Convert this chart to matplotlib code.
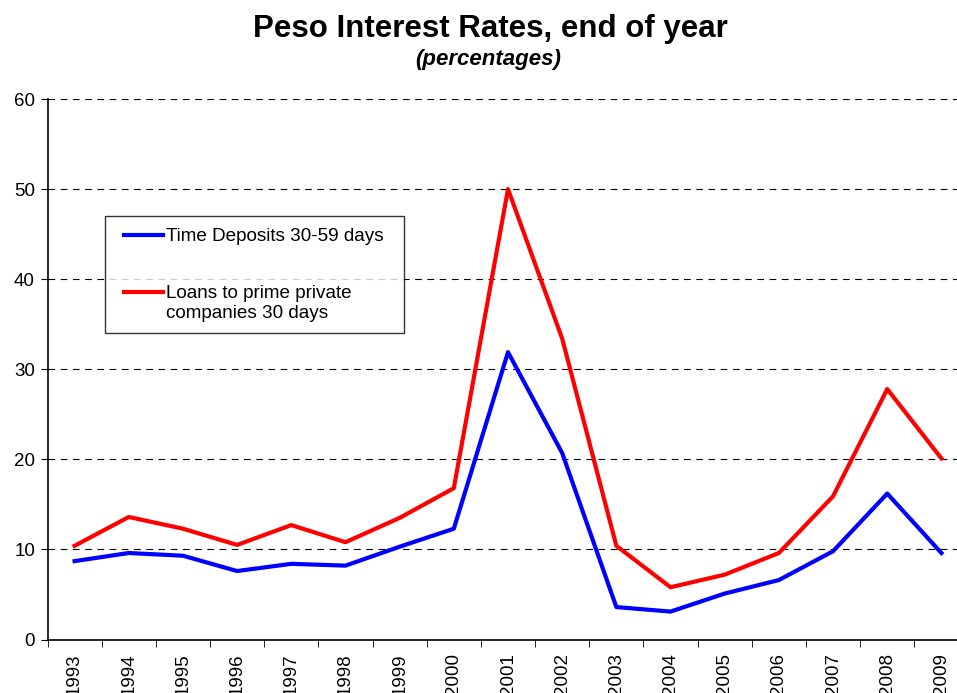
import numpy as np
import matplotlib
matplotlib.use("Agg")
from matplotlib import pyplot as plt
from matplotlib.legend_handler import HandlerLine2D

plt.rcParams["font.family"] = ["Liberation Sans", "DejaVu Sans"]

years = ["1993", "1994", "1995", "1996", "1997", "1998", "1999", "2000", "2001",
         "2002", "2003", "2004", "2005", "2006", "2007", "2008", "2009"]
deposits = [8.7, 9.6, 9.3, 7.6, 8.4, 8.2, 10.3, 12.3, 31.9,
            20.7, 3.6, 3.1, 5.1, 6.6, 9.8, 16.2, 9.6]
loans = [10.4, 13.6, 12.3, 10.5, 12.7, 10.8, 13.5, 16.8, 50.0,
         33.4, 10.4, 5.8, 7.2, 9.6, 15.9, 27.8, 20.1]

W, H = 957, 693
fig = plt.figure(figsize=(W / 100, H / 100), dpi=100)
# plot area runs slightly past the right edge of the picture, as in the original
ax = fig.add_axes([47.5 / W, (H - 639.5) / H, 921 / W, 540.5 / H])

x = np.arange(len(years))
ax.plot(x, deposits, color="#0000ff", lw=3, label="Time Deposits 30-59 days")
ax.plot(x, loans, color="#ff0000", lw=3, label="Loans to prime private\ncompanies 30 days")

ax.set_xlim(-0.5, len(years) - 0.5)
ax.set_ylim(0, 60)
ax.set_yticks(np.arange(0, 61, 10))
ax.yaxis.grid(True, color="black", linestyle=(0, (6, 5)), linewidth=0.8)
ax.set_axisbelow(True)

ax.set_xticks(x)
ax.set_xticklabels(years, rotation=90, va="top")
ax.set_xticks(np.arange(-0.5, len(years), 1), minor=True)
ax.tick_params(axis="x", which="major", length=0, labelsize=13.5, pad=10)
ax.tick_params(axis="x", which="minor", length=5, direction="out", color="black")
ax.tick_params(axis="y", length=5, direction="out", labelsize=13.5, pad=4)

for s in ["top", "right"]:
    ax.spines[s].set_visible(False)
for s in ["left", "bottom"]:
    ax.spines[s].set_linewidth(1.2)

fig.text(490 / W, 1 - 29 / H, "Peso Interest Rates, end of year", ha="center", va="center",
         fontsize=22.5, fontweight="bold")
fig.text(488 / W, 1 - 60 / H, "(percentages)", ha="center", va="center",
         fontsize=16, fontweight="bold", fontstyle="italic")

# legend box: x 105..404, y 216..333 px
leg = ax.legend(loc="upper left",
                bbox_to_anchor=(105 / W, 1 - 333 / H, 299 / W, 117 / H),
                bbox_transform=fig.transFigure, mode="expand", fontsize=13.6,
                frameon=True, fancybox=False, borderpad=0.63, labelspacing=2.12,
                handlelength=2.43, handleheight=1.0, handletextpad=0.16,
                borderaxespad=0, handler_map={plt.Line2D: HandlerLine2D(xpad=0.37)})
leg.get_frame().set_edgecolor("black")
leg.get_frame().set_linewidth(1.0)
# put each legend line level with the first line of its label
for col in leg._legend_handle_box.get_children():
    for row in col.get_children():
        row.align = "top"

fig.savefig("out.png", dpi=100)
